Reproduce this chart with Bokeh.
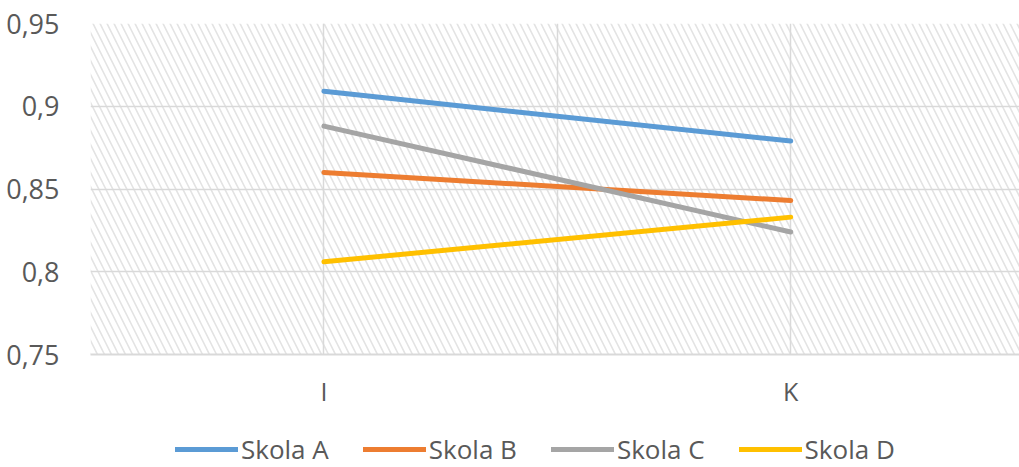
from bokeh.plotting import figure
from bokeh.models import (FixedTicker, Legend, LegendItem, BoxAnnotation, Range1d)
from bokeh.layouts import column
from bokeh.embed import file_html
from bokeh.resources import INLINE

categories = ["I", "K"]
cat_pos = [1, 3]
series_names = ["Skola A", "Skola B", "Skola C", "Skola D"]
skola_a = [0.909, 0.879]
skola_b = [0.860, 0.843]
skola_c = [0.888, 0.824]
skola_d = [0.806, 0.833]
series_values = [skola_a, skola_b, skola_c, skola_d]
colors = ["#5B9BD5", "#ED7D31", "#A5A5A5", "#FFC000"]
y_ticks = [0.75, 0.8, 0.85, 0.9, 0.95]
y_tick_labels = ["0,75", "0,8", "0,85", "0,9", "0,95"]

FONT = "Open Sans"
TXT = "#595959"
GRID = "#d9d9d9"

p = figure(width=1019, height=410, output_backend="svg", toolbar_location=None,
           x_range=Range1d(0, 3.98), y_range=Range1d(0.75, 0.95),
           min_border_left=90, min_border_right=0, min_border_top=23,
           min_border_bottom=53)
p.outline_line_color = None
p.background_fill_color = "white"

hatch = BoxAnnotation(fill_color="white", fill_alpha=1.0, line_color=None,
                      hatch_pattern="\\", hatch_color="#e3e3e3", hatch_scale=14,
                      hatch_weight=1.6, level="image")
p.add_layout(hatch)

# axes
p.xaxis.ticker = FixedTicker(ticks=cat_pos)
p.xaxis.major_label_overrides = {pos: lab for pos, lab in zip(cat_pos, categories)}
p.xaxis.axis_line_color = GRID
p.xaxis.axis_line_width = 2
p.xaxis.major_tick_line_color = None
p.xaxis.minor_tick_line_color = None
p.xaxis.major_label_standoff = 13
p.xaxis.major_label_text_font = FONT
p.xaxis.major_label_text_font_size = "25px"
p.xaxis.major_label_text_color = TXT

p.yaxis.ticker = FixedTicker(ticks=y_ticks)
p.yaxis.major_label_overrides = {t: l for t, l in zip(y_ticks, y_tick_labels)}
p.yaxis.axis_line_color = None
p.yaxis.major_tick_line_color = None
p.yaxis.minor_tick_line_color = None
p.yaxis.major_label_standoff = 25
p.yaxis.major_label_text_font = FONT
p.yaxis.major_label_text_font_size = "27px"
p.yaxis.major_label_text_color = TXT

p.xgrid.ticker = FixedTicker(ticks=[0, 1, 2, 3])
p.xgrid.grid_line_color = GRID
p.xgrid.grid_line_width = 1.5
p.ygrid.grid_line_color = GRID
p.ygrid.grid_line_width = 1.5

for name, vals, col in zip(series_names, series_values, colors):
    p.line(cat_pos, vals, line_color=col, line_width=5, line_cap="round")

# legend strip below the chart (its lines lie outside its visible range)
p2 = figure(width=1019, height=57, output_backend="svg", toolbar_location=None,
            x_axis_type=None, y_axis_type=None, x_range=Range1d(10, 11),
            y_range=Range1d(0, 1), min_border=0)
p2.outline_line_color = None
p2.grid.visible = False
items = []
for name, vals, col in zip(series_names, series_values, colors):
    r = p2.line(cat_pos, vals, line_color=col, line_width=5, line_cap="round")
    items.append(LegendItem(label=name, renderers=[r]))

legend = Legend(items=items, orientation="horizontal", location=(85, 0),
                border_line_color=None, background_fill_alpha=0,
                label_text_font=FONT, label_text_font_size="26px",
                label_text_color=TXT, glyph_width=63, glyph_height=20,
                label_height=20, label_standoff=3, spacing=34, padding=0,
                margin=0)
p2.add_layout(legend, "center")

open("out.html", "w").write(file_html(column(p, p2, spacing=0), INLINE))
